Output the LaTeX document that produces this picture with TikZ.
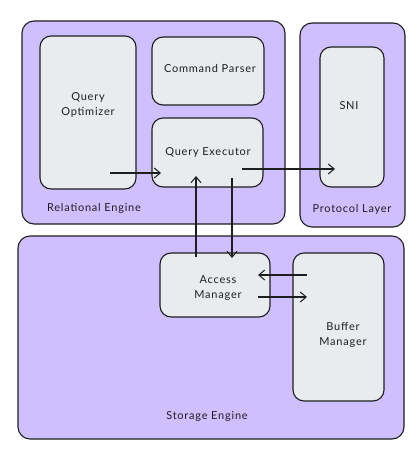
\documentclass[tikz,border=0pt]{standalone}
\usepackage{fontspec}
\setmainfont[LetterSpace=7]{Lato}
\usetikzlibrary{arrows.meta}
\definecolor{outerfill}{HTML}{D0BFFF}
\definecolor{innerfill}{HTML}{E9ECEF}
\definecolor{ink}{HTML}{1E1E1E}
\begin{document}
\begin{tikzpicture}[x=1pt,y=-1pt,
  container/.style={draw=ink,fill=outerfill,line width=1.1pt,rounded corners=12pt,inner sep=0pt},
  part/.style={draw=ink,fill=innerfill,line width=1.1pt,rounded corners=11pt,inner sep=0pt},
  lbl/.style={text=ink,font=\fontsize{11}{15}\selectfont,align=center,inner sep=0pt},
  conn/.style={draw=ink,line width=1.2pt,-{Straight Barb[length=6pt,width=10pt,line width=1pt]}}
]
\useasboundingbox (0,0) rectangle (418,449);
% containers
\node[container,minimum width=263pt,minimum height=203pt] (rel) at (153.5,122.5) {};
\node[container,minimum width=105pt,minimum height=204pt] (proto) at (352.5,125) {};
\node[container,minimum width=386pt,minimum height=203pt] (stor) at (211,337.5) {};
% parts
\node[part,minimum width=96pt,minimum height=153pt] (qo) at (88,112.5) {};
\node[part,minimum width=112pt,minimum height=68pt] (cp) at (208,71) {};
\node[part,minimum width=111pt,minimum height=69pt] (qe) at (207.5,152.5) {};
\node[part,minimum width=64pt,minimum height=140pt] (sni) at (352,117) {};
\node[part,minimum width=110pt,minimum height=64pt] (am) at (215,285) {};
\node[part,minimum width=91pt,minimum height=148pt] (bm) at (338.5,327) {};
% labels
\node[lbl] (qot) at (88,105) {Query\\Optimizer};
\node[lbl] (cpt) at (210,68) {Command Parser};
\node[lbl] (qet) at (208,152) {Query Executor};
\node[lbl] (snit) at (349,106) {SNI};
\node[lbl] (amt) at (218,288) {Access\\Manager};
\node[lbl] (bmt) at (343,335) {Buffer\\Manager};
\node[lbl] (relt) at (94,208) {Relational Engine};
\node[lbl] (protot) at (352,209) {Protocol Layer};
\node[lbl] (stort) at (207,416) {Storage Engine};
% connector ends
\coordinate (a1s) at (110,173);
\coordinate (a1e) at (161,173);
\coordinate (a2s) at (242,169);
\coordinate (a2e) at (335,169);
\coordinate (a3s) at (196,257);
\coordinate (a3e) at (196,176);
\coordinate (a4s) at (232,178);
\coordinate (a4e) at (232,258);
\coordinate (a5s) at (307,275);
\coordinate (a5e) at (258,275);
\coordinate (a6s) at (258,297);
\coordinate (a6e) at (307,297);
\draw[conn] (a1s) -- (a1e);
\draw[conn] (a2s) -- (a2e);
\draw[conn] (a3s) -- (a3e);
\draw[conn] (a4s) -- (a4e);
\draw[conn] (a5s) -- (a5e);
\draw[conn] (a6s) -- (a6e);
\end{tikzpicture}
\end{document}
